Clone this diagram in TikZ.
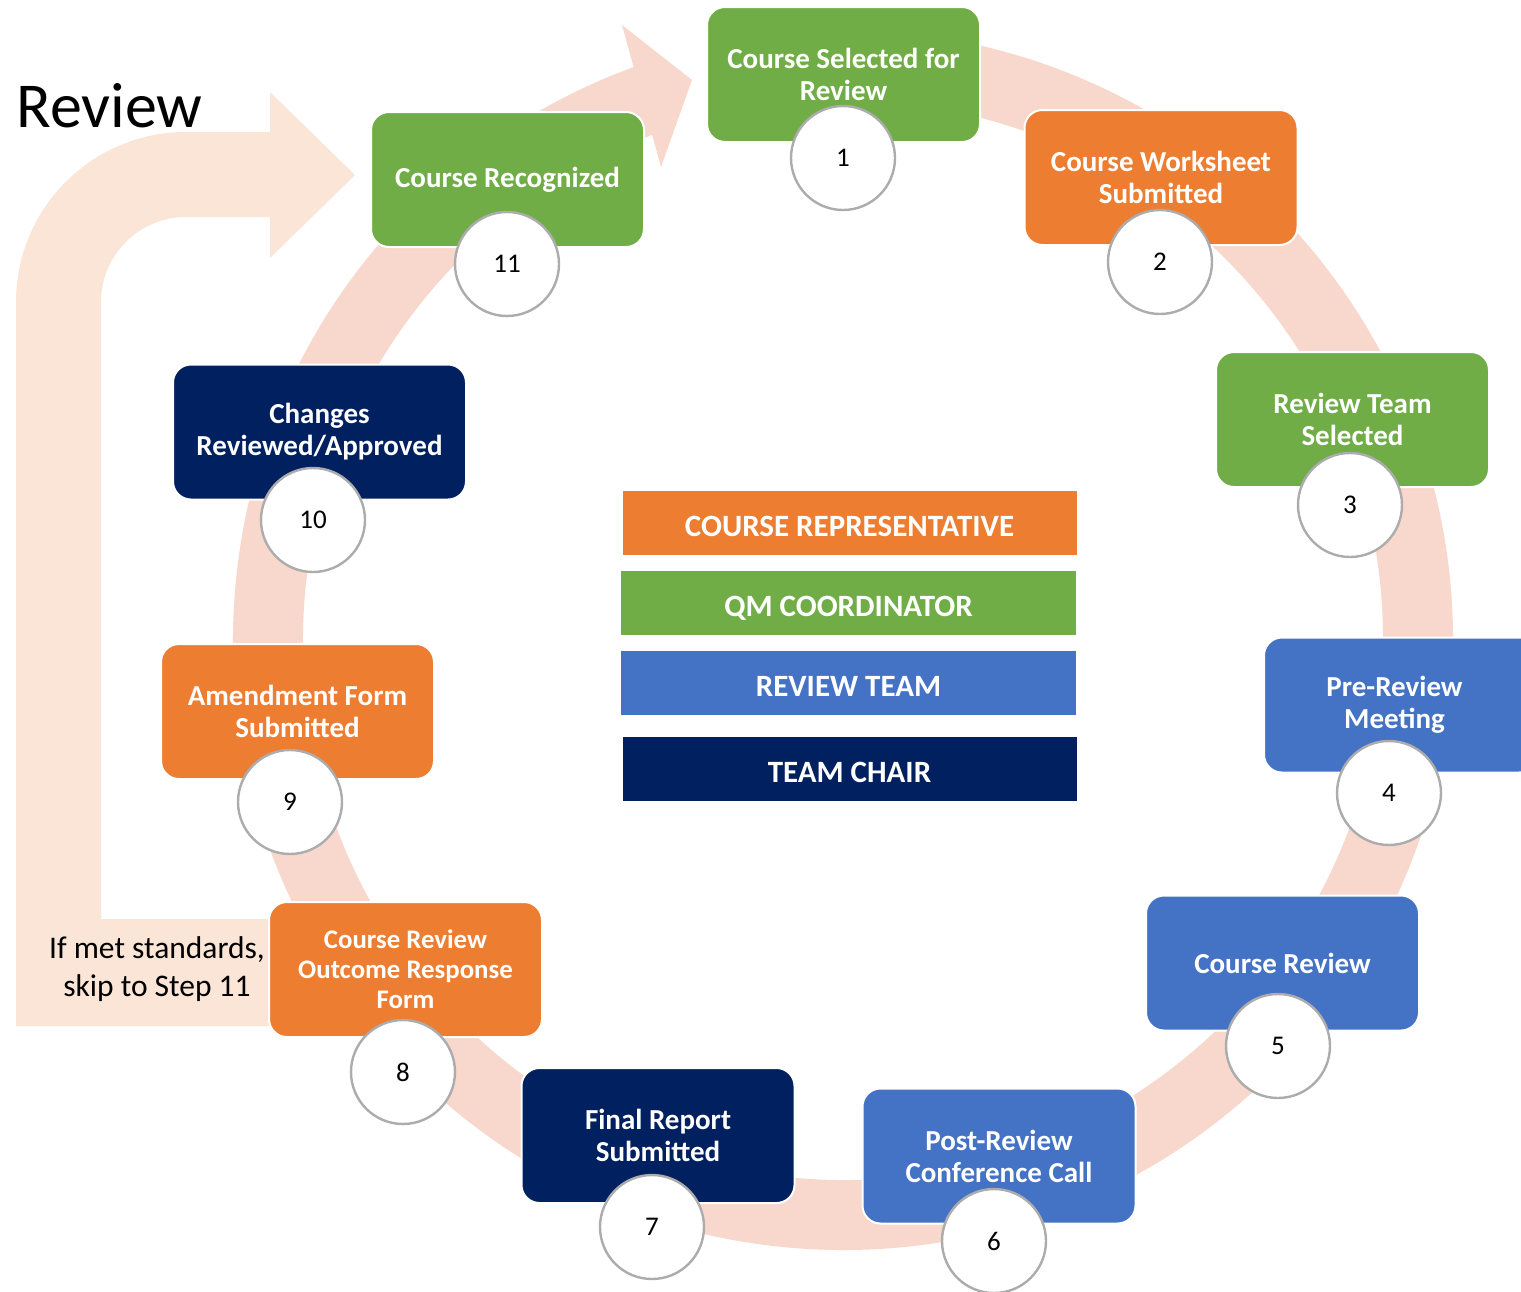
\documentclass[tikz,border=0pt]{standalone}
\usepackage{fontspec}
\setmainfont{Carlito}
\usepackage{tikz}
\usepackage{xcolor}
\definecolor{qmorange}{HTML}{ED7D31}
\definecolor{qmgreen}{HTML}{70AD47}
\definecolor{qmblue}{HTML}{4472C4}
\definecolor{qmnavy}{HTML}{002060}
\definecolor{ringpink}{HTML}{F8D8CC}
\definecolor{skippink}{HTML}{FBE5D7}

\begin{document}
\begin{tikzpicture}[x=0.5pt,y=-0.5pt,
  stepbox/.style={rounded corners=9pt,draw=white,line width=1pt,minimum width=136.5pt,minimum height=67.5pt,
    text=white,align=center,inner sep=2pt,font=\fontsize{14.5}{16}\selectfont\bfseries},
  stepnum/.style={circle,draw=gray!65,line width=1.2pt,fill=white,minimum size=52pt,inner sep=0pt,
    font=\fontsize{13.5}{16}\selectfont},
  rolebar/.style={minimum width=227pt,minimum height=32pt,inner sep=0pt,text=white,text height=13pt,text depth=0pt,
    font=\fontsize{15.5}{18}\selectfont\bfseries}]
\useasboundingbox (0,0) rectangle (1521,1291);
\fill[skippink] (16,1026) -- (16,302) arc[start angle=180,end angle=270,radius=170] -- (270,132) -- (270,92)
  -- (355,175) -- (270,258) -- (270,217) -- (186,217) arc[start angle=270,end angle=180,radius=85]
  -- (101,919) -- (420,919) -- (420,1026) -- cycle;
\draw[ringpink,line width=35pt] (843,640) ++(-85:575) arc[start angle=-85,end angle=250.5,radius=575];
\fill[ringpink] (622,25) -- (692,80) -- (661,167) -- cycle;
\node[anchor=base west,inner sep=0pt,font=\fontsize{32}{36}\selectfont] (title) at (16,127) {Review};
\node[align=center,inner sep=0pt,font=\fontsize{15.75}{19}\selectfont] (skip) at (157,969) {If met standards,\\skip to Step 11};
\node[stepbox,fill=qmgreen] (s1) at (843.5,74.5) {Course Selected for\\Review};
\node[stepbox,fill=qmorange] (s2) at (1161,177.5) {Course Worksheet\\Submitted};
\node[stepbox,fill=qmgreen] (s3) at (1352.5,419.5) {Review Team\\Selected};
\node[stepbox,fill=qmblue] (s4) at (1400.5,705) {\hspace*{-6pt}Pre-Review\\\hspace*{-6pt}Meeting};
\node[stepbox,fill=qmblue] (s5) at (1282.5,963) {Course Review};
\node[stepbox,fill=qmblue] (s6) at (999,1156) {Post-Review\\Conference Call};
\node[stepbox,fill=qmnavy] (s7) at (658,1135.5) {Final Report\\Submitted};
\node[stepbox,fill=qmorange,font=\fontsize{13.4}{15}\selectfont\bfseries] (s8) at (405.5,969.5) {Course Review\\Outcome Response\\Form};
\node[stepbox,fill=qmorange] (s9) at (297.5,711.5) {Amendment Form\\Submitted};
\node[stepbox,fill=qmnavy,minimum width=146.5pt] (s10) at (319.5,432) {Changes\\Reviewed/Approved};
\node[stepbox,fill=qmgreen] (s11) at (507.5,179.5) {Course Recognized};
\node[stepnum] (n1) at (843,158) {1};
\node[stepnum] (n2) at (1160,262) {2};
\node[stepnum] (n3) at (1350,505) {3};
\node[stepnum] (n4) at (1389,793) {4};
\node[stepnum] (n5) at (1278,1046) {5};
\node[stepnum] (n6) at (994,1241) {6};
\node[stepnum] (n7) at (652,1227) {7};
\node[stepnum] (n8) at (403,1072) {8};
\node[stepnum] (n9) at (290,802) {9};
\node[stepnum] (n10) at (313,520) {10};
\node[stepnum] (n11) at (507,264) {11};
\node[rolebar,fill=qmorange] (rep) at (849.5,523) {COURSE REPRESENTATIVE};
\node[rolebar,fill=qmgreen,minimum width=227.5pt] (coord) at (848.5,603) {QM COORDINATOR};
\node[rolebar,fill=qmblue,minimum width=227.5pt] (team) at (848.5,683) {REVIEW TEAM};
\node[rolebar,fill=qmnavy] (chair) at (849.5,769) {TEAM CHAIR};
\end{tikzpicture}
\end{document}
